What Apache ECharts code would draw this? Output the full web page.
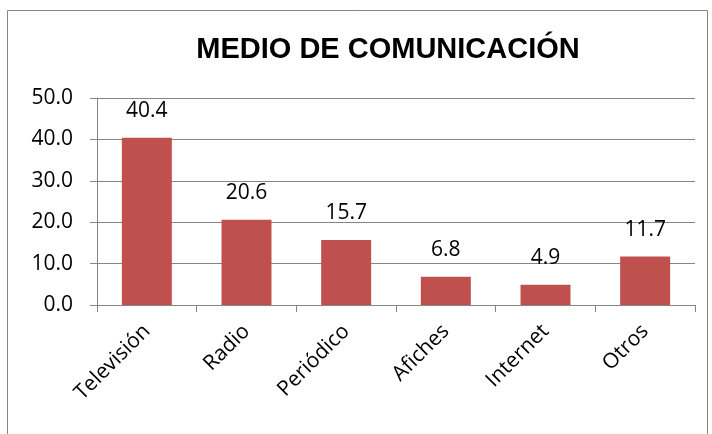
<!DOCTYPE html>
<html>
<head>
<meta charset="utf-8">
<script src="https://cdn.jsdelivr.net/npm/echarts@6/dist/echarts.min.js"></script>
<style>
  html, body { margin: 0; padding: 0; background: #fff; }
  #chart { width: 712px; height: 434px; }
</style>
</head>
<body>
<div id="chart"></div>
<script>
var categories = ['Televisión', 'Radio', 'Periódico', 'Afiches', 'Internet', 'Otros'];
var values = [40.4, 20.6, 15.7, 6.8, 4.9, 11.7];
var titleText = 'MEDIO DE COMUNICACIÓN';

var chart = echarts.init(document.getElementById('chart'));
var font = '"Open Sans", "Noto Sans", sans-serif';

var option = {
    backgroundColor: '#fff',
    animation: false,
    title: {
        text: titleText,
        left: 383,
        top: 30,
        textAlign: 'center',
        textStyle: {
            fontFamily: '"Liberation Sans", Arial, sans-serif',
            fontWeight: 'bold',
            fontSize: 29,
            color: '#000'
        }
    },
    graphic: [{
        type: 'rect',
        shape: { x: 7.5, y: 10.5, width: 700, height: 440 },
        style: { fill: 'none', stroke: '#868686', lineWidth: 1 },
        z: -1
    }],
    grid: {
        left: 97,
        right: 17,
        top: 98,
        bottom: 129
    },
    xAxis: {
        type: 'category',
        data: categories,
        axisLine: { lineStyle: { color: '#868686', width: 1 } },
        axisTick: { show: true, length: 7, lineStyle: { color: '#868686' } },
        axisLabel: {
            rotate: 45,
            margin: 23,
            fontFamily: font,
            fontSize: 21,
            color: '#000'
        }
    },
    yAxis: {
        type: 'value',
        min: 0,
        max: 50,
        interval: 10,
        axisLine: { show: true, lineStyle: { color: '#868686', width: 1 } },
        axisTick: { show: true, length: 7, lineStyle: { color: '#868686' } },
        splitLine: { lineStyle: { color: '#868686', width: 1 } },
        axisLabel: {
            margin: 24,
            fontFamily: font,
            fontSize: 21,
            color: '#000',
            formatter: function (v) { return v.toFixed(1); }
        }
    },
    series: [{
        type: 'bar',
        data: values,
        barWidth: 50,
        itemStyle: { color: '#C0504D' },
        label: {
            show: true,
            position: 'top',
            distance: 16,
            fontFamily: font,
            fontSize: 21,
            color: '#000',
            formatter: function (p) { return p.value.toFixed(1); }
        }
    }]
};

chart.setOption(option);
</script>
</body>
</html>
